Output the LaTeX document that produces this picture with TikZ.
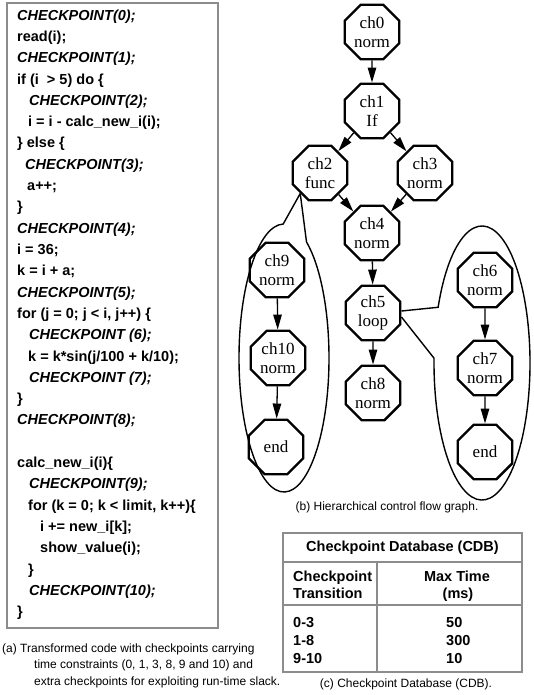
\documentclass[tikz,border=0pt]{standalone}
\usepackage{fontspec}
\setmainfont{Liberation Serif}
\setsansfont{Liberation Sans}
\usetikzlibrary{shapes.geometric,arrows.meta,calc}
\newcommand\codeln[3]{\node[cline] (L#2) at (#1,{20.2+21.3*#2}) {#3};}
\begin{document}
\begin{tikzpicture}[x=1pt,y=-1pt,
  oct/.style={regular polygon, regular polygon sides=8, draw, line width=2.4pt,
    minimum size=59pt, inner sep=0pt, align=center,
    font=\fontsize{17}{18.5}\selectfont},
  edge/.style={line width=1.3pt, -{Triangle[length=15pt,width=8.5pt]}},
  callout/.style={line width=1.4pt},
  cline/.style={anchor=base west, inner sep=0pt, font=\sffamily\bfseries\fontsize{14.5}{17}\selectfont},
  tbltxt/.style={inner sep=0pt, font=\sffamily\bfseries\fontsize{14.5}{17}\selectfont},
  capt/.style={inner sep=0pt, font=\sffamily\fontsize{12}{14}\selectfont},
  frame/.style={draw=black!45, line width=1.3pt}
]
\useasboundingbox (0,0) rectangle (533,695);

% ---------------- code box ----------------
\draw[frame] (7,3) rectangle (218,628);
\codeln{17}{0}{\itshape CHECKPOINT(0);}
\codeln{17}{1}{read(i);}
\codeln{17}{2}{\itshape CHECKPOINT(1);}
\codeln{17}{3}{if (i \ > 5) do \{}
\codeln{29}{4}{\itshape CHECKPOINT(2);}
\codeln{28}{5}{i = i - calc\_new\_i(i);}
\codeln{17}{6}{\} else \{}
\codeln{25}{7}{\itshape CHECKPOINT(3);}
\codeln{27}{8}{a++;}
\codeln{17}{9}{\}}
\codeln{17}{10}{\itshape CHECKPOINT(4);}
\codeln{17}{11}{i = 36;}
\codeln{17}{12}{k = i + a;}
\codeln{17}{13}{\itshape CHECKPOINT(5);}
\codeln{17}{14}{for (j = 0; j < i, j++) \{}
\codeln{29}{15}{\itshape CHECKPOINT (6);}
\codeln{28}{16}{k = k*sin(j/100 + k/10);}
\codeln{29}{17}{\itshape CHECKPOINT (7);}
\codeln{17}{18}{\}}
\codeln{17}{19}{\itshape CHECKPOINT(8);}
\codeln{17}{21}{calc\_new\_i(i)\{}
\codeln{29}{22}{\itshape CHECKPOINT(9);}
\codeln{28}{23}{for (k = 0; k < limit, k++)\{}
\codeln{40}{24}{i += new\_i[k];}
\codeln{40}{25}{show\_value(i);}
\codeln{28}{26}{\}}
\codeln{29}{27}{\itshape CHECKPOINT(10);}
\codeln{17}{28}{\}}

\node[capt, anchor=base west] (ca1) at (2,652) {(a) Transformed code with checkpoints carrying};
\node[capt, anchor=base west] (ca2) at (34,668.5) {time constraints (0, 1, 3, 8, 9 and 10) and};
\node[capt, anchor=base west] (ca3) at (34,685) {extra checkpoints for exploiting run-time slack.};

% ---------------- graph ----------------
\node[oct] (ch0) at (372,32) {ch0\\norm};
\node[oct] (ch1) at (372,111) {ch1\\If};
\node[oct] (ch2) at (320,173) {ch2\\func};
\node[oct] (ch3) at (425,173) {ch3\\norm};
\node[oct] (ch4) at (372,233) {ch4\\norm};
\node[oct] (ch5) at (373,313) {ch5\\loop};
\node[oct] (ch8) at (373,393) {ch8\\norm};
\node[oct] (ch9) at (277,270) {ch9\\norm};
\node[oct] (ch10) at (278,358) {ch10\\norm};
\node[oct] (endL) at (276,447) {end};
\node[oct] (ch6) at (485,280) {ch6\\norm};
\node[oct] (ch7) at (485,368) {ch7\\norm};
\node[oct] (endR) at (485,452) {end};

\draw[edge] (ch0) -- (ch1);
\draw[edge] (ch1) -- (ch2);
\draw[edge] (ch1) -- (ch3);
\draw[edge] (ch2) -- (ch4);
\draw[edge] (ch3) -- (ch4);
\draw[edge] (ch4) -- (ch5);
\draw[edge] (ch5) -- (ch8);
\draw[edge] (ch9) -- (ch10);
\draw[edge] (ch10) -- (endL);
\draw[edge] (ch6) -- (ch7);
\draw[edge] (ch7) -- (endR);

\coordinate (eL) at (284,358);
\coordinate (eR) at (482,363);
\draw[callout] (ch2.226) -- ($(eL)+(269:45 and 134)$)
  arc[start angle=269, end angle=-60, x radius=45, y radius=134] -- (ch2.226);
\draw[callout] (ch5.4) -- ($(eR)+(204:48 and 137)$)
  arc[start angle=204, end angle=542, x radius=48, y radius=137] -- (ch5.-8);

\node[capt] (cb) at (387,507) {(b) Hierarchical control flow graph.};

% ---------------- table ----------------
\draw[frame] (283,533) rectangle (522,672);
\draw[frame] (283,562) -- (522,562);
\draw[frame] (283,605) -- (522,605);
\draw[frame] (377,562) -- (377,672);
\node[tbltxt] (tt) at (402.5,547.5) {Checkpoint Database (CDB)};
\node[tbltxt, anchor=base west] (h1a) at (293,581) {Checkpoint};
\node[tbltxt, anchor=base west] (h1b) at (293,598) {Transition};
\node[tbltxt, anchor=base] (h2a) at (457,581) {Max Time};
\node[tbltxt, anchor=base] (h2b) at (458,598) {(ms)};
\node[tbltxt, anchor=base west] (r1a) at (293,627) {0-3};
\node[tbltxt, anchor=base west] (r2a) at (293,645) {1-8};
\node[tbltxt, anchor=base west] (r3a) at (293,663) {9-10};
\node[tbltxt, anchor=base west] (r1b) at (446,627) {50};
\node[tbltxt, anchor=base west] (r2b) at (446,645) {300};
\node[tbltxt, anchor=base west] (r3b) at (446,663) {10};
\node[capt] (cc) at (406,684) {(c) Checkpoint Database (CDB).};
\end{tikzpicture}
\end{document}
